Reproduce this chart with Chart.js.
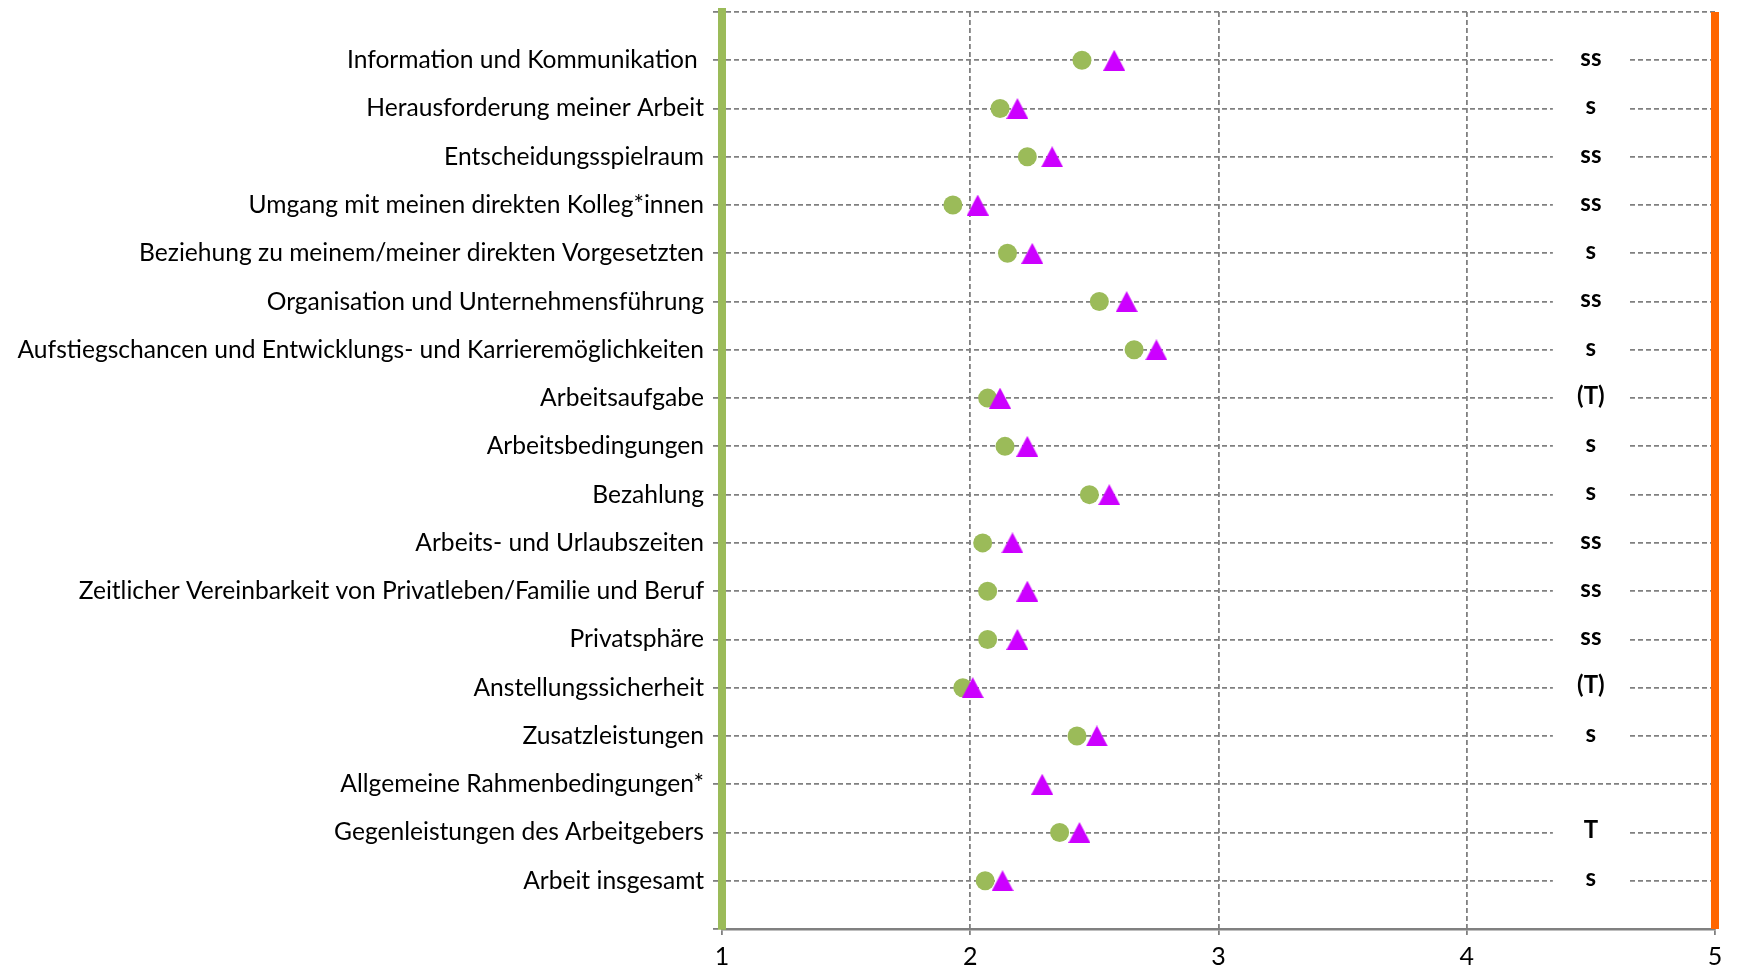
<!DOCTYPE html>
<html>
<head>
<meta charset="utf-8">
<script src="https://cdn.jsdelivr.net/npm/chart.js@4/dist/chart.umd.min.js"></script>
<style>
  body { margin: 0; background: #fff; }
  canvas { display: block; }
</style>
</head>
<body>
<canvas id="chart-zufriedenheit" width="1739" height="968"></canvas>
<script>
// categories from top to bottom
const categories = [
  "Information und Kommunikation ",
  "Herausforderung meiner Arbeit",
  "Entscheidungsspielraum",
  "Umgang mit meinen direkten Kolleg*innen",
  "Beziehung zu meinem/meiner direkten Vorgesetzten",
  "Organisation und Unternehmensführung",
  "Aufstiegschancen und Entwicklungs- und Karrieremöglichkeiten",
  "Arbeitsaufgabe",
  "Arbeitsbedingungen",
  "Bezahlung",
  "Arbeits- und Urlaubszeiten",
  "Zeitlicher Vereinbarkeit von Privatleben/Familie und Beruf",
  "Privatsphäre",
  "Anstellungssicherheit",
  "Zusatzleistungen",
  "Allgemeine Rahmenbedingungen*",
  "Gegenleistungen des Arbeitgebers",
  "Arbeit insgesamt",
];

// green circles (null = no value)
const valuesGreen = [2.45, 2.12, 2.23, 1.93, 2.15, 2.52, 2.66, 2.07, 2.14, 2.48, 2.05, 2.07, 2.07, 1.97, 2.43, null, 2.36, 2.06];
// purple triangles
const valuesPurple = [2.58, 2.19, 2.33, 2.03, 2.25, 2.63, 2.75, 2.12, 2.23, 2.56, 2.17, 2.23, 2.19, 2.01, 2.51, 2.29, 2.44, 2.13];
// significance marks on the right
const sigLabels = ["ss", "s", "ss", "ss", "s", "ss", "s", "(T)", "s", "s", "ss", "ss", "ss", "(T)", "s", "", "T", "s"];

const xTicks = [1, 2, 3, 4, 5];
const sigX = 4.5;

const green = "#9BBB59";
const purple = "#CC00FF";
const orange = "#FF6600";
const gridGrey = "#808080";

// fit category label font so the longest label is as wide as in the original
const labelFont = "Lato";
const probe = document.createElement("canvas").getContext("2d");
probe.font = "100px " + labelFont;
const longest = Math.max(...categories.map((c) => probe.measureText(c).width));
const labelSize = Math.round((686 / longest) * 1000) / 10;

// triangle marker
function makeTriangle() {
  const c = document.createElement("canvas");
  c.width = 22;
  c.height = 21;
  const g = c.getContext("2d");
  g.fillStyle = purple;
  g.beginPath();
  g.moveTo(11, 0);
  g.lineTo(22, 21);
  g.lineTo(0, 21);
  g.closePath();
  g.fill();
  return c;
}

const pointsGreen = [];
valuesGreen.forEach((v, i) => {
  if (v !== null) pointsGreen.push({ x: v, y: i + 1 });
});
const pointsPurple = valuesPurple.map((v, i) => ({ x: v, y: i + 1 }));

// draws the significance marks with a white box over the grid line
const sigPlugin = {
  id: "sigLabels",
  afterDatasetsDraw(chart) {
    const ctx = chart.ctx;
    const xs = chart.scales.x;
    const ys = chart.scales.y;
    ctx.save();
    ctx.font = "bold 24px " + labelFont;
    ctx.textAlign = "center";
    ctx.textBaseline = "middle";
    sigLabels.forEach((t, i) => {
      if (!t) return;
      const px = xs.getPixelForValue(sigX);
      const py = ys.getPixelForValue(i + 1);
      ctx.fillStyle = "#fff";
      ctx.fillRect(px - 38, py - 10, 76, 20);
      ctx.fillStyle = "#000";
      ctx.fillText(t, px, py - 2);
    });
    ctx.restore();
  },
};

new Chart(document.getElementById("chart-zufriedenheit"), {
  type: "scatter",
  data: {
    datasets: [
      {
        label: "Gruppe B",
        data: pointsPurple,
        pointStyle: makeTriangle(),
        pointRadius: 11,
        order: 0,
      },
      {
        label: "Gruppe A",
        data: pointsGreen,
        pointStyle: "circle",
        pointRadius: 9.5,
        backgroundColor: green,
        borderWidth: 0,
        order: 1,
      },
      {
        type: "line",
        label: "max",
        data: [
          { x: 5, y: 0 },
          { x: 5, y: categories.length + 1 },
        ],
        borderColor: orange,
        borderWidth: 8,
        pointRadius: 0,
        clip: false,
        order: 2,
      },
    ],
  },
  options: {
    responsive: false,
    animation: false,
    events: [],
    layout: { padding: { top: 10, right: 24, left: 0, bottom: 0 } },
    plugins: {
      legend: { display: false },
      tooltip: { enabled: false },
    },
    scales: {
      x: {
        type: "linear",
        min: xTicks[0],
        max: xTicks[xTicks.length - 1],
        afterFit: (s) => {
          s.height = 39;
          s.paddingLeft = 0;
          s.paddingRight = 0;
        },
        afterBuildTicks: (s) => { s.ticks = xTicks.map((v) => ({ value: v })); },
        ticks: {
          stepSize: 1,
          padding: 7,
          color: "#000",
          font: { family: labelFont, size: 25 },
        },
        grid: {
          color: gridGrey,
          lineWidth: 1.8,
          tickLength: 6,
          tickColor: gridGrey,
        },
        border: { color: gridGrey, width: 2.5, dash: [5, 3] },
      },
      y: {
        type: "linear",
        reverse: true,
        min: 0,
        max: categories.length + 1,
        afterFit: (s) => {
          s.width = 722;
          s.paddingTop = 0;
          s.paddingBottom = 0;
        },
        ticks: {
          stepSize: 1,
          autoSkip: false,
          padding: 9,
          color: "#000",
          font: { family: labelFont, size: labelSize },
          callback: (v) => categories[v - 1] || "",
        },
        grid: {
          color: gridGrey,
          lineWidth: 1.8,
          tickLength: 9,
          tickColor: gridGrey,
        },
        border: { color: green, width: 8, dash: [5, 3] },
      },
    },
  },
  plugins: [sigPlugin],
});
</script>
</body>
</html>
